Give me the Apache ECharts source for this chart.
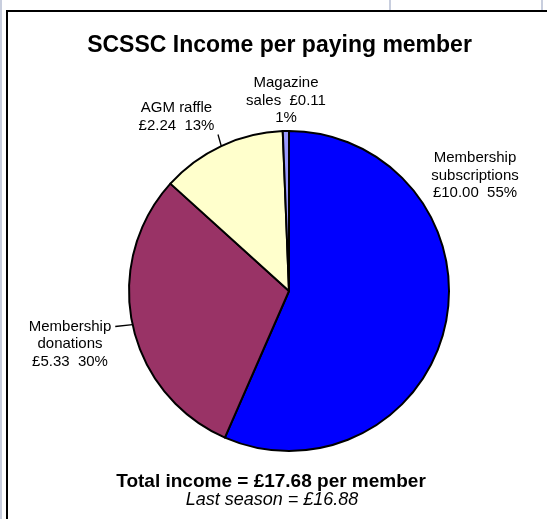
<!DOCTYPE html>
<html><head><meta charset="utf-8">
<script src="https://cdn.jsdelivr.net/npm/echarts@6/dist/echarts.min.js"></script>
<style>html,body{margin:0;padding:0;background:#fff}#c{width:547px;height:519px}</style>
</head><body><div id="c"></div>
<script>
// ---- data ----
const categories = ['Membership subscriptions', 'Membership donations', 'AGM raffle', 'Magazine sales'];
const values = [10.00, 5.33, 2.24, 0.11];
const percentLabels = ['55%', '30%', '13%', '1%'];
const lastSeasonTotal = 16.88;
const titleText = 'SCSSC Income per paying member';

// ---- styling / layout ----
const sliceColors = ['#0000FF', '#993366', '#FFFFCC', '#9999FF'];
const FONT = "'Liberation Sans', Arial, Helvetica, sans-serif";
const pieCenter = [289, 291];
const pieRadius = 160;
// label box centre offsets from pie centre, and invisible paddings that steer the leader line anchor
const labelOffsets = [[186, -115.5], [-217, 35.5], [-71, -174], [-3, -190.5]];
const labelPaddings = [[0, 0, 0, 0], [0, 4, 0, 0], [0, 83, 0, 0], [0, 0, 0, 0]];
const labelTemplates = ['{0}\n{1}\n{v}  {p}', '\n\n{0}\n{1}\n{v}  {p}', '{0} {1}\n{v}  {p}', '{0}\n{1}  {v}\n{p}'];
const showLeader = [false, true, true, false];

const total = values.reduce((a, b) => a + b, 0);
const money = v => '£' + v.toFixed(2);

const chart = echarts.init(document.getElementById('c'), null, {renderer: 'canvas'});
const gridColor = '#c8cede';

chart.setOption({
  animation: false,
  backgroundColor: '#fff',
  graphic: [
    {type: 'line', z: 0, shape: {x1: 1, y1: 0, x2: 1, y2: 519}, style: {stroke: gridColor, lineWidth: 2}},
    {type: 'line', z: 0, shape: {x1: 390, y1: 0, x2: 390, y2: 10}, style: {stroke: gridColor, lineWidth: 2}},
    {type: 'line', z: 0, shape: {x1: 542, y1: 0, x2: 542, y2: 10}, style: {stroke: gridColor, lineWidth: 2}},
    {type: 'rect', z: 1, shape: {x: 7, y: 11, width: 700, height: 700}, style: {fill: '#fff', stroke: '#000', lineWidth: 2}},
    {type: 'text', z: 5, style: {text: titleText, x: 279.5, y: 46, textAlign: 'center', textVerticalAlign: 'middle',
      font: 'bold 23px ' + FONT, fill: '#000'}},
    {type: 'text', z: 5, style: {text: 'Total income = ' + money(total) + ' per member', x: 271, y: 481.5, textAlign: 'center', textVerticalAlign: 'middle',
      font: 'bold 19px ' + FONT, fill: '#000'}},
    {type: 'text', z: 5, style: {text: 'Last season = ' + money(lastSeasonTotal), x: 272, y: 499.5, textAlign: 'center', textVerticalAlign: 'middle',
      font: 'italic 18px ' + FONT, fill: '#000'}}
  ],
  series: [{
    type: 'pie',
    z: 3,
    center: pieCenter,
    radius: pieRadius,
    startAngle: 90,
    clockwise: true,
    avoidLabelOverlap: false,
    itemStyle: {borderColor: '#000', borderWidth: 2},
    label: {
      show: true,
      position: 'outside',
      fontFamily: FONT,
      fontSize: 15,
      lineHeight: 17.5,
      color: '#000',
      align: 'center',
      formatter: p => {
        const words = categories[p.dataIndex].split(' ');
        return labelTemplates[p.dataIndex]
          .replace('{0}', words[0]).replace('{1}', words.slice(1).join(' '))
          .replace('{v}', money(values[p.dataIndex])).replace('{p}', percentLabels[p.dataIndex]);
      }
    },
    labelLine: {show: true, length: 4, length2: 0, lineStyle: {color: '#000', width: 1.3}},
    labelLayout: p => ({
      x: pieCenter[0] + labelOffsets[p.dataIndex][0],
      y: pieCenter[1] + labelOffsets[p.dataIndex][1],
      align: 'center',
      verticalAlign: 'middle'
    }),
    data: categories.map((c, i) => ({
      name: c,
      value: values[i],
      itemStyle: {color: sliceColors[i]},
      label: {padding: labelPaddings[i]},
      labelLine: {show: showLeader[i]}
    }))
  }]
});
</script></body></html>
